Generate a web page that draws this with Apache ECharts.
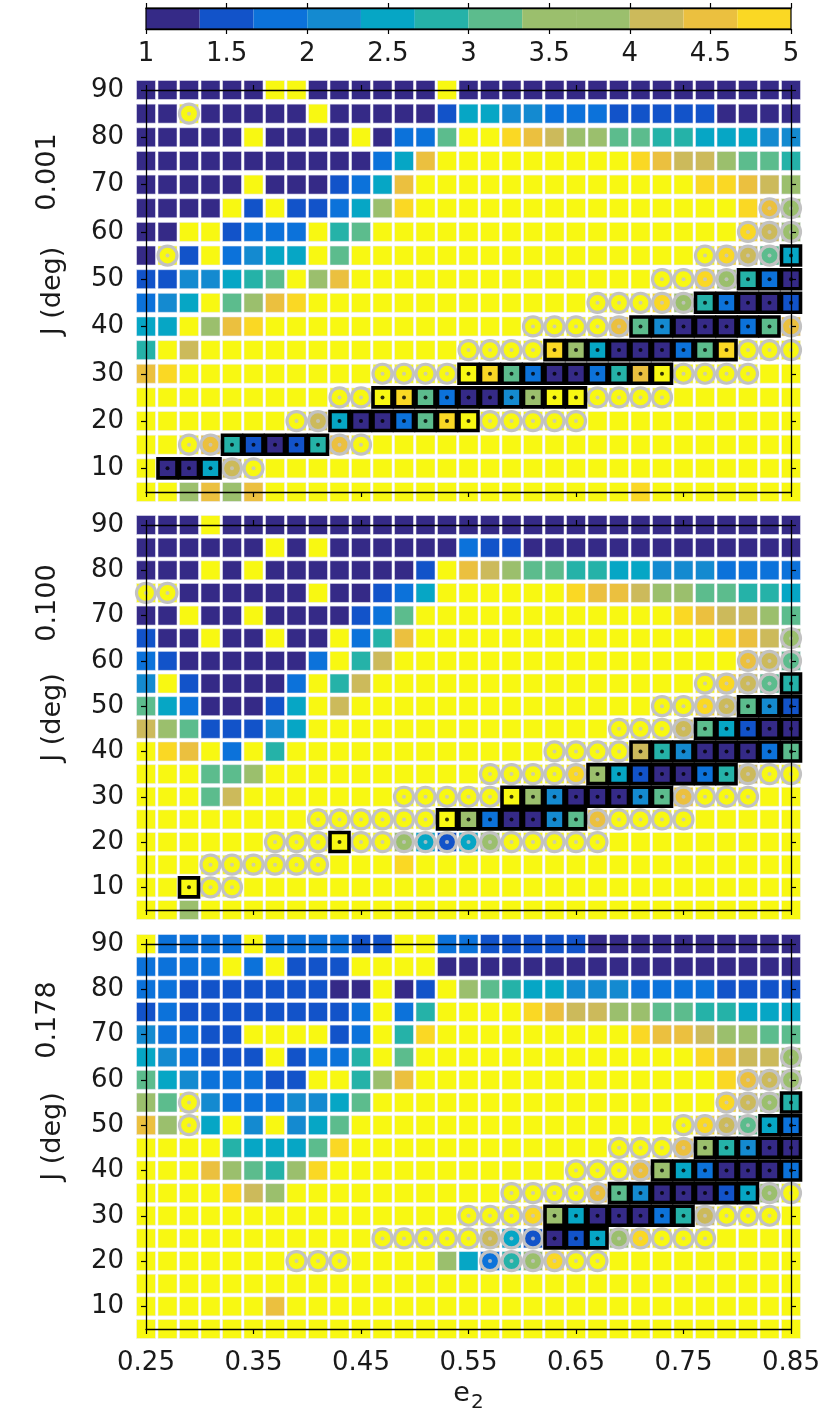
<!DOCTYPE html>
<html>
<head>
<meta charset="utf-8">
<script src="https://cdn.jsdelivr.net/npm/echarts@6/dist/echarts.min.js"></script>
<style>
html,body{margin:0;padding:0;background:#fff;}
#chart{width:830px;height:1422px;}
</style>
</head>
<body>
<div id="chart"></div>
<script>
// ---------------- data ----------------
const e2Values = ['0.25','0.27','0.29','0.31','0.33','0.35','0.37','0.39','0.41','0.43','0.45','0.47','0.49','0.51','0.53','0.55','0.57','0.59','0.61','0.63','0.65','0.67','0.69','0.71','0.73','0.75','0.77','0.79','0.81','0.83','0.85'];
const jValues = ['5','10','15','20','25','30','35','40','45','50','55','60','65','70','75','80','85','90'];
const colorbarTicks = [1, 1.5, 2, 2.5, 3, 3.5, 4, 4.5, 5];
const levelEdges = [1, 1.333, 1.667, 2, 2.333, 2.667, 3, 3.333, 3.667, 4, 4.333, 4.667, 5];
const levelColors = ['#352A87','#1253C9','#0C72DA','#148AD0','#06A6C5','#25B2A8','#5CBC8D','#9BBF6D','#9BBF6D','#CCBA5B','#EBC03F','#FAD824'];
const overColor = '#F8F812';
// level code -> value (Y = above colour range)
const codeValues = {'1':1.17,'2':1.5,'3':1.83,'4':2.17,'5':2.5,'6':2.83,'7':3.17,'8':3.5,'A':4.17,'B':4.5,'C':4.83,'Y':5.5};
const panelLabels = ['0.001','0.100','0.178'];

// rows from J = 90 (top) down to J = 5 (bottom); 31 columns e2 = 0.25 ... 0.85
const panel1Levels = [
'11111 1YY11 1111Y 11111 11111 11111 1',
'11Y11 111Y1 11112 55443 33222 22111 1',
'11111 Y1111 Y1337 YYCBA 88776 65554 4',
'11111 11111 135BY YYYYY YYYCB AA877 6',
'11111 Y1112 35BYY YYYYY YYYYY YCCBA 8',
'1111Y 2Y223 58CYY YYYYY YYYYY YYYCB 8',
'11YY2 333Y6 7YYYY YYYYY YYYYY YYYCA 8',
'1Y2Y3 455Y7 YYYYY YYYYY YYYYY YYCA7 5',
'22445 67Y8B YYYYY YYYYY YYYYY YC863 1',
'345Y7 8BCYY YYYYY YYYYY YYYYC 86311 2',
'55Y8B CYYYY YYYYY YYYYY YYB74 11137 B',
'6YAYY YYYYY YYYYY YYYYC 85111 37CYY Y',
'BCYYY YYYYY YYYYY YC731 136BY YYYYY Y',
'YYYYY YYYYY YYC73 1148Y YYYYY YYYYY Y',
'YYYYY YYYA5 1137C YYYYY YYYYY YYYYY Y',
'YYYB6 2126B YYYYY YYYYY YYYYY YYYYY Y',
'Y115A YYYYY YYYYY YYYYY YYYYY YYYYY Y',
'YY8B8 BYYYY YYYYY YYYYY YYYCY YYYYY Y'
];
const panel1Marks = [
'..... ..... ..... ..... ..... ..... .',
'..o.. ..... ..... ..... ..... ..... .',
'..... ..... ..... ..... ..... ..... .',
'..... ..... ..... ..... ..... ..... .',
'..... ..... ..... ..... ..... ..... .',
'..... ..... ..... ..... ..... ....o o',
'..... ..... ..... ..... ..... ...oo o',
'.o... ..... ..... ..... ..... .oooo x',
'..... ..... ..... ..... ....o oooxx x',
'..... ..... ..... ..... .oooo oxxxx x',
'..... ..... ..... ...oo oooxx xxxxx o',
'..... ..... ..... oooox xxxxx xxxoo o',
'..... ..... .oooo xxxxx xxxxx oooo. .',
'..... ....o oxxxx xxxxx xoooo ..... .',
'..... ..oox xxxxx xoooo o.... ..... .',
'..oox xxxxo o.... ..... ..... ..... .',
'.xxxo o.... ..... ..... ..... ..... .',
'..... ..... ..... ..... ..... ..... .'
];
const panel2Levels = [
'111Y1 11111 11111 11111 11111 11111 1',
'11111 1Y1Y1 11111 32211 11111 11111 1',
'111Y1 Y1111 1112Y BA877 66554 44333 3',
'YY111 111Y1 1235Y YYYYY CBBA8 87766 5',
'11Y11 Y1111 237YY YYYYY YYYYY CBAA8 7',
'211Y1 1Y11Y 36BYY YYYYY YYYYY YYCBA 8',
'32111 1113Y 6AYYY YYYYY YYYYY YYYBA 7',
'4Y211 113Y6 AYYYY YYYYY YYYYY YYCA7 6',
'75311 125YA YYYYY YYYYY YYYYY YCA74 2',
'A8722 245YY YYYYY YYYYY YYYYY A7521 1',
'YCBY3 Y6YYY YYYYY YYYYY YYYA6 41113 7',
'YYY77 8YYYY YYYYY YYYYY C8521 136AY Y',
'YYY7A YYYYY YYYYY YYY84 11147 BYYYY Y',
'YYYYY YYYYY YYYYY 83114 7BYYY YYYYY Y',
'YYYYY YYYYY YY852 58YYY YYYYY YYYYY Y',
'YYYYY YYYYY YYCYY YYYYY YYYYY YYYYY Y',
'YYYYY YYYYY YYYYY YYYYY YYYYY YYYYY Y',
'YY8YY YYYYY YYYYY YYYYY YYYYY YYYYY Y'
];
const panel2Marks = [
'..... ..... ..... ..... ..... ..... .',
'..... ..... ..... ..... ..... ..... .',
'..... ..... ..... ..... ..... ..... .',
'oo... ..... ..... ..... ..... ..... .',
'..... ..... ..... ..... ..... ..... .',
'..... ..... ..... ..... ..... ..... o',
'..... ..... ..... ..... ..... ...oo o',
'..... ..... ..... ..... ..... .oooo x',
'..... ..... ..... ..... ....o oooxx x',
'..... ..... ..... ..... ..ooo oxxxx x',
'..... ..... ..... ....o oooxx xxxxx x',
'..... ..... ..... .oooo oxxxx xxxoo o',
'..... ..... ..ooo ooxxx xxxxx oooo. .',
'..... ...oo oooox xxxxx xoooo o.... .',
'..... .ooox ooooo ooooo oo... ..... .',
'...oo oooo. ..... ..... ..... ..... .',
'..xoo ..... ..... ..... ..... ..... .',
'..... ..... ..... ..... ..... ..... .'
];
const panel3Levels = [
'Y3333 Y3333 22YY3 32222 21111 11111 1',
'3333Y 3Y222 YYYY1 11111 11111 11111 1',
'33222 22221 1Y12Y 87655 44433 33222 2',
'23222 22222 3Y36Y YYYCB AA887 76655 5',
'43322 YYYY2 3Y6CY YYYYY YYYCB BA887 7',
'54322 2Y233 6Y7YY YYYYY YYYYY YCBAA 8',
'75433 322YY 68BYY YYYYY YYYYY YYCBA 8',
'87Y43 33445 7YYYY YYYYY YYYYY YYCA8 6',
'B8Y5Y 4Y457 YYYYY YYYYY YYYYY YCA75 3',
'YYYY6 5557C YYYYY YYYYY YYYYY B8641 1',
'YYYB8 768CY YYYYY YYYYY YYYB8 53111 3',
'YYYYC A8YYY YYYYY YYYYY YB741 11258 Y',
'YYYYY YYYYY YYYYY YYYC8 51113 6AYYY Y',
'YYYYY YYYYY YYYYY YA521 258CY YYYYY Y',
'YYYYY YYYYY YYYY8 5368C YYYYY YYYYY Y',
'YYYYY YYYYY YYYYY YYYYY YYYYY YYYYY Y',
'YYYYY YBYYY YYYYY YYYYY YYYYY YYYYY Y',
'YYYYY YYYYY YYYYY YYYYY YYYYY YYYYY Y'
];
const panel3Marks = [
'..... ..... ..... ..... ..... ..... .',
'..... ..... ..... ..... ..... ..... .',
'..... ..... ..... ..... ..... ..... .',
'..... ..... ..... ..... ..... ..... .',
'..... ..... ..... ..... ..... ..... .',
'..... ..... ..... ..... ..... ..... o',
'..... ..... ..... ..... ..... ...oo o',
'..o.. ..... ..... ..... ..... ..ooo x',
'..o.. ..... ..... ..... ..... oooox x',
'..... ..... ..... ..... ..ooo oxxxx x',
'..... ..... ..... ..... oooox xxxxx x',
'..... ..... ..... ..ooo ooxxx xxxxo o',
'..... ..... ..... oooox xxxxx xoooo .',
'..... ..... .oooo oooox xxooo oo... .',
'..... ..ooo ..... .oooo oo... ..... .',
'..... ..... ..... ..... ..... ..... .',
'..... ..... ..... ..... ..... ..... .',
'..... ..... ..... ..... ..... ..... .'
];

// ---------------- build ----------------
const FONT = "'DejaVu Sans', Verdana, sans-serif";
const INK = '#1a1a1a';
const panels = [
  {levels: panel1Levels, marks: panel1Marks},
  {levels: panel2Levels, marks: panel2Marks},
  {levels: panel3Levels, marks: panel3Marks}
];
const grids = [
  {left: 146, width: 645, top: 8, height: 21, show: true, borderColor: '#000', borderWidth: 1.2, backgroundColor: 'transparent', z: 10},
  {left: 146, width: 645, top: 90, height: 402},
  {left: 146, width: 645, top: 525, height: 385},
  {left: 146, width: 645, top: 944, height: 385}
];
const labelYCenters = [172, 603, 1020];

const tickStyle = {show: true, inside: false, length: 5, lineStyle: {color: '#000', width: 1.2}};
const lineStyle = {show: true, lineStyle: {color: '#000', width: 1.3}};
const jTickFilter = (idx, val) => Number(val) % 10 === 0;
const AXIS_Z = 20;

const xAxes = [
  {type: 'value', gridIndex: 0, min: 1, max: 5, interval: 0.5, position: 'bottom', z: AXIS_Z,
   axisLine: lineStyle, axisTick: tickStyle, splitLine: {show: false},
   axisLabel: {fontSize: 26, fontFamily: FONT, color: INK, margin: 12}},
  {type: 'value', gridIndex: 0, min: 1, max: 5, interval: 0.5, position: 'top', z: AXIS_Z,
   axisLine: lineStyle, axisTick: tickStyle, splitLine: {show: false}, axisLabel: {show: false}}
];
const yAxes = [
  {type: 'value', gridIndex: 0, min: 0, max: 1, show: false}
];
const series = [];
const coloredSeries = [];

// colour bar
series.push({
  type: 'custom', xAxisIndex: 0, yAxisIndex: 0, silent: true, clip: false, z: 1,
  data: levelColors.map((c, i) => [levelEdges[i], levelEdges[i + 1], i]),
  encode: {x: [0, 1]},
  renderItem: function (params, api) {
    const p0 = api.coord([api.value(0), 0]);
    const p1 = api.coord([api.value(1), 1]);
    return {type: 'rect',
      shape: {x: p0[0], y: p1[1], width: p1[0] - p0[0], height: p0[1] - p1[1]},
      style: {fill: levelColors[api.value(2)]}};
  }
});

panels.forEach((panel, p) => {
  const gi = p + 1;
  const xb = xAxes.length, yl = yAxes.length;
  xAxes.push({
    type: 'category', gridIndex: gi, data: e2Values, boundaryGap: false, position: 'bottom', z: AXIS_Z,
    axisLine: lineStyle, axisTick: Object.assign({interval: 4}, tickStyle),
    axisLabel: {show: p === 2, interval: 4, fontSize: 26, fontFamily: FONT, color: INK, margin: 21},
    splitLine: {show: false},
    name: p === 2 ? '{e|e}{s|2}' : '', nameLocation: 'middle', nameGap: 46,
    nameTextStyle: {fontSize: 27, fontFamily: FONT, color: INK,
      rich: {e: {fontSize: 27, fontFamily: FONT, color: INK},
             s: {fontSize: 20, fontFamily: FONT, color: INK, padding: [18, 0, 0, 1]}}}
  });
  xAxes.push({
    type: 'category', gridIndex: gi, data: e2Values, boundaryGap: false, position: 'top', z: AXIS_Z,
    axisLine: lineStyle, axisTick: Object.assign({interval: 4}, tickStyle),
    axisLabel: {show: false}, splitLine: {show: false}
  });
  yAxes.push({
    type: 'category', gridIndex: gi, data: jValues, boundaryGap: false, position: 'left', z: AXIS_Z,
    axisLine: lineStyle, axisTick: Object.assign({interval: jTickFilter}, tickStyle),
    axisLabel: {interval: jTickFilter, fontSize: 26, fontFamily: FONT, color: INK, margin: 22},
    splitLine: {show: false},
    name: 'J (deg)', nameLocation: 'middle', nameRotate: 90, nameGap: 80,
    nameTextStyle: {fontSize: 27, fontFamily: FONT, color: INK}
  });
  yAxes.push({
    type: 'category', gridIndex: gi, data: jValues, boundaryGap: false, position: 'right', z: AXIS_Z,
    axisLine: lineStyle, axisTick: Object.assign({interval: jTickFilter}, tickStyle),
    axisLabel: {show: false}, splitLine: {show: false}
  });

  const cells = [], circles = [], boxes = [];
  panel.levels.forEach((rowStr, r) => {
    const lv = rowStr.replace(/ /g, '');
    const mk = panel.marks[r].replace(/ /g, '');
    const J = jValues[jValues.length - 1 - r];
    for (let c = 0; c < e2Values.length; c++) {
      const v = codeValues[lv[c]];
      const pt = [e2Values[c], J, v];
      cells.push(pt);
      if (mk[c] === 'o') circles.push(pt);
      else if (mk[c] === 'x') boxes.push(pt);
    }
  });
  const common = {type: 'scatter', xAxisIndex: xb, yAxisIndex: yl, silent: true, clip: false,
    progressive: 0, large: false, animation: false};
  coloredSeries.push(series.length);
  series.push(Object.assign({}, common, {
    name: 'cells ' + panelLabels[p], symbol: 'rect', symbolSize: 19, data: cells, z: 2,
    itemStyle: {borderColor: 'rgba(235,235,245,0.55)', borderWidth: 1, opacity: 1}
  }));
  coloredSeries.push(series.length);
  series.push(Object.assign({}, common, {
    name: 'circled ' + panelLabels[p], symbol: 'circle', symbolSize: 19, data: circles, z: 3,
    itemStyle: {borderColor: '#C2C2C2', borderWidth: 3.2, opacity: 1}
  }));
  series.push(Object.assign({}, common, {
    name: 'circled centre ' + panelLabels[p], symbol: 'circle', symbolSize: 4, data: circles, z: 4,
    itemStyle: {color: '#C4C4C4'}
  }));
  coloredSeries.push(series.length);
  series.push(Object.assign({}, common, {
    name: 'boxed ' + panelLabels[p], symbol: 'rect', symbolSize: 19, data: boxes, z: 5,
    itemStyle: {borderColor: '#000', borderWidth: 3.6, opacity: 1}
  }));
  series.push(Object.assign({}, common, {
    name: 'boxed centre ' + panelLabels[p], symbol: 'circle', symbolSize: 4, data: boxes, z: 6,
    itemStyle: {color: '#000'}
  }));
});

const pieces = levelColors.map((c, i) => ({gte: levelEdges[i], lt: levelEdges[i + 1], color: c}));
pieces.push({gte: levelEdges[levelEdges.length - 1], color: overColor});

const option = {
  animation: false,
  backgroundColor: '#fff',
  grid: grids,
  xAxis: xAxes,
  yAxis: yAxes,
  visualMap: {type: 'piecewise', show: false, dimension: 2, seriesIndex: coloredSeries, pieces: pieces},
  graphic: panelLabels.map((t, i) => ({
    type: 'text', x: 48, y: labelYCenters[i], rotation: Math.PI / 2, silent: true,
    style: {text: t, fontSize: 27, fontFamily: FONT, fill: INK, align: 'center', verticalAlign: 'middle'}
  })),
  series: series
};

const chart = echarts.init(document.getElementById('chart'), null, {renderer: 'canvas'});
chart.setOption(option);
</script>
</body>
</html>
